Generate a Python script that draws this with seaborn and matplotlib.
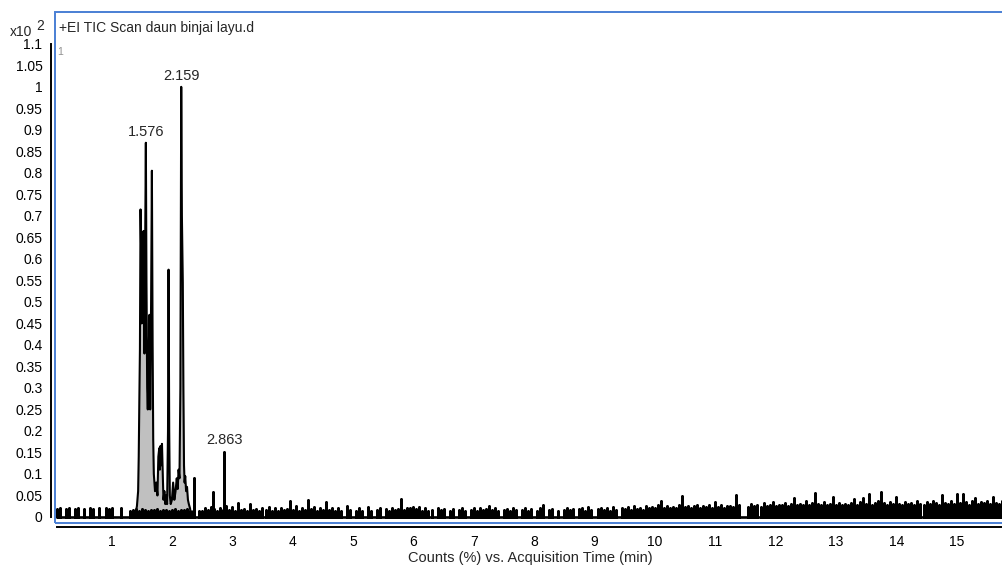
import numpy as np
import pandas as pd
import matplotlib
matplotlib.use("Agg")
import matplotlib.pyplot as plt
import seaborn as sns

# main peak cluster trace (retention time in min, counts in %)
peak_time = [1.38, 1.40, 1.42, 1.44, 1.45, 1.46, 1.47, 1.48, 1.49, 1.50, 1.51, 1.52,
             1.53, 1.545, 1.555, 1.568, 1.578, 1.59, 1.60, 1.615, 1.628, 1.64, 1.655,
             1.668, 1.68, 1.69, 1.70, 1.72, 1.74, 1.76, 1.775, 1.79, 1.80, 1.81, 1.82,
             1.835, 1.85, 1.86, 1.875, 1.89, 1.905, 1.92, 1.935, 1.944, 1.955, 1.965,
             1.98, 2.00, 2.02, 2.04, 2.06, 2.08, 2.095, 2.11, 2.125, 2.14, 2.154, 2.165,
             2.18, 2.19, 2.20, 2.21, 2.22, 2.235, 2.25, 2.265, 2.28, 2.30, 2.32]
peak_counts = [0.5, 1.0, 2.5, 6.0, 14.0, 27.0, 39.0, 71.5, 62.0, 45.0, 52.0, 60.0,
               66.5, 38.0, 60.0, 87.0, 55.0, 30.0, 25.0, 38.0, 47.0, 25.0, 50.0,
               80.5, 40.0, 18.0, 10.0, 6.0, 8.0, 5.0, 14.0, 16.0, 11.0, 16.5, 12.0,
               17.0, 9.0, 4.0, 6.0, 3.0, 5.0, 3.0, 20.0, 57.5, 20.0, 5.0,
               3.0, 4.0, 8.0, 4.0, 6.0, 9.0, 6.5, 11.0, 9.0, 30.0, 100.0, 70.0,
               54.5, 30.0, 12.0, 8.0, 9.5, 6.0, 7.0, 4.0, 3.0, 2.0, 0.0]

# small isolated peaks
minor_time = [2.37, 2.68, 2.863]
minor_counts = [9.0, 5.9, 15.2]

# labelled peaks
label_time = [1.576, 2.159, 2.863]
label_counts = [87.0, 100.0, 15.2]

# baseline noise, one value every 0.05 min from 0.10 to 15.80
noise_start, noise_step = 0.10, 0.05
noise_counts = [
    1.9, 2.0, 0, 1.9, 2.0, 0, 1.8, 2.0, 0, 1.9, 0, 2.0, 1.9, 0, 2.0, 0, 2.0, 1.9,
    2.0, 0, 0, 2.2, 0, 0, 1.5, 1.6, 1.8, 1.5, 1.8, 1.6, 1.4, 1.7, 1.6, 1.8, 1.5, 1.7, 1.6, 1.5,
    1.6, 1.8, 1.5, 1.7, 1.6, 1.8, 1.5, 1.4, 0, 1.3, 1.5, 2.0, 1.6, 2.4, 1.8, 1.5, 2.1, 1.6, 2.6, 1.7,
    2.3, 1.4, 3.3, 1.6, 1.9, 1.5, 3.1, 1.6, 1.8, 1.4, 2.1, 1.7, 2.4, 1.5, 2.0, 1.3, 2.2, 1.6, 1.8, 3.7,
    1.7, 2.5, 1.5, 2.0, 1.6, 3.9, 1.8, 2.3, 1.5, 2.0, 1.6, 3.5, 1.7, 2.2, 1.4, 2.1, 1.5, 0, 2.6, 1.6,
    0, 1.5, 2.1, 1.4, 0, 2.4, 1.5, 0, 1.7, 2.0, 0, 1.8, 1.5, 2.2, 1.6, 1.9, 4.1, 1.6, 2.2, 2.0,
    2.4, 1.8, 2.3, 1.5, 2.0, 1.4, 1.7, 0, 2.0, 1.6, 1.8, 0, 1.5, 1.9, 0, 1.6, 2.0, 1.5, 0, 1.7,
    2.2, 1.5, 2.0, 1.6, 1.8, 2.5, 1.6, 2.0, 1.5, 0, 1.6, 1.8, 1.5, 2.0, 1.7, 0, 1.6, 2.2, 1.5, 1.9,
    0, 1.5, 2.0, 2.8, 0, 1.6, 1.9, 0, 1.5, 0, 1.7, 2.0, 1.6, 1.8, 0, 1.9, 2.1, 1.5, 2.3, 1.7,
    0, 1.8, 2.2, 1.6, 2.0, 1.5, 2.4, 1.7, 0, 2.0, 1.8, 2.3, 1.6, 2.5, 1.9, 2.2, 1.7, 2.6, 2.0, 2.4,
    2.1, 2.8, 3.8, 2.2, 2.6, 2.0, 2.4, 2.2, 2.7, 4.8, 2.3, 2.6, 2.1, 2.5, 2.9, 2.2, 2.6, 2.3, 2.8, 2.2,
    3.4, 2.4, 2.7, 2.2, 2.5, 2.6, 2.3, 5.1, 2.8, 0, 0, 2.4, 3.1, 2.6, 2.9, 2.4, 3.3, 2.5, 2.8, 3.5,
    2.6, 2.9, 2.7, 3.2, 2.5, 3.0, 4.4, 2.8, 3.1, 2.7, 3.6, 2.9, 3.2, 5.5, 3.0, 2.7, 3.4, 2.8, 3.1, 4.7,
    2.9, 3.3, 2.7, 3.0, 2.8, 3.2, 4.2, 2.9, 3.4, 4.4, 3.1, 5.3, 2.9, 3.3, 3.6, 5.9, 3.2, 2.8, 3.4, 3.0,
    4.7, 3.1, 2.8, 3.5, 3.0, 3.3, 2.9, 3.8, 3.1, 2.7, 3.4, 3.0, 3.6, 3.2, 2.9, 5.0, 3.3, 3.0, 3.7, 3.1,
    5.4, 3.2, 5.3, 3.4, 2.9, 3.6, 4.3, 3.0, 3.5, 3.2, 3.8, 3.1, 4.7, 3.3, 3.0, 3.6, 3.2,
]

x_ticks = list(range(1, 16))
y_ticks = [round(0.05 * i, 2) for i in range(23)]

frame_blue = "#4a7fd4"

sns.set_style("white")
plt.rcParams["font.family"] = ["Liberation Sans", "DejaVu Sans"]

fig = plt.figure(figsize=(10.03, 5.65), dpi=100)
ax = fig.add_axes([55 / 1003, 1 - 523 / 565, 950 / 1003, 511 / 565])

# comb of noise spikes
noise_time = noise_start + noise_step * np.arange(len(noise_counts))
t_all = np.concatenate([noise_time, minor_time])
h_all = np.concatenate([noise_counts, minor_counts]) / 100
order = np.argsort(t_all)
t_all, h_all = t_all[order], h_all[order]
comb = pd.DataFrame({
    "time": np.repeat(t_all, 3),
    "counts": np.column_stack([np.zeros_like(h_all), h_all, np.zeros_like(h_all)]).ravel(),
})

peaks = pd.DataFrame({"time": peak_time, "counts": np.array(peak_counts) / 100})

ax.fill_between(peaks["time"], 0, peaks["counts"], color="#c0c0c0", lw=0, zorder=1)
sns.lineplot(data=comb, x="time", y="counts", sort=False, estimator=None,
             color="black", lw=1.9, ax=ax, zorder=2)
sns.lineplot(data=peaks, x="time", y="counts", sort=False, estimator=None,
             color="black", lw=1.5, ax=ax, zorder=3)

for t, c in zip(label_time, label_counts):
    ax.annotate(f"{t:.3f}", (t, c / 100), xytext=(0, 3), textcoords="offset points",
                ha="center", va="bottom", fontsize=10.5)

ax.set_xlim(0.063, 15.80)
ax.set_ylim(-0.014, 1.174)
ax.set_xticks(x_ticks)
ax.set_xticklabels([str(v) for v in x_ticks])
ax.set_yticks(y_ticks)
ax.set_yticklabels([f"{v:g}" for v in y_ticks])
ax.tick_params(axis="both", direction="out", length=5, width=1.2, colors="black",
               labelsize=10, pad=1)
ax.tick_params(axis="x", length=4, pad=2)
ax.set_xlabel("Counts (%) vs. Acquisition Time (min)", fontsize=10.5, labelpad=1)
ax.set_ylabel("")

for side in ["top", "right"]:
    ax.spines[side].set_visible(False)
for side in ["left", "bottom"]:
    ax.spines[side].set_color("black")
    ax.spines[side].set_linewidth(1.4)
    ax.spines[side].set_position(("outward", 3))
ax.spines["left"].set_bounds(0, 1.1)
ax.spines["bottom"].set_bounds(0.1, 15.80)

ax.add_patch(plt.Rectangle((0, 0), 1, 1, transform=ax.transAxes, fill=False,
                           edgecolor=frame_blue, lw=1.4, clip_on=False, zorder=5))

fig.text(10 / 1003, 1 - 36 / 565, "x10", fontsize=10, ha="left", va="baseline")
fig.text(36 / 1003, 1 - 30 / 565, "2", fontsize=10, ha="left", va="baseline")
fig.text(59 / 1003, 1 - 32 / 565, "+EI TIC Scan daun binjai layu.d", fontsize=10,
         ha="left", va="baseline")
fig.text(57 / 1003, 1 - 55 / 565, "1", fontsize=7.5, color="#909090", ha="left",
         va="baseline")

fig.savefig("out.png", dpi=100)
